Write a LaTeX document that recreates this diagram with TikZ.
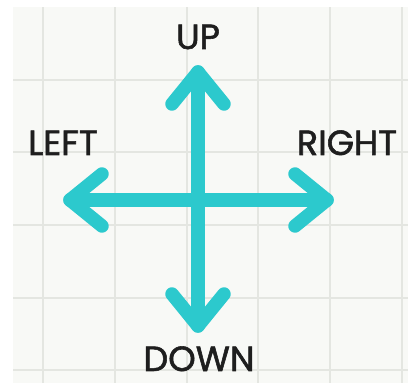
\documentclass[tikz,border=0pt]{standalone}
\usepackage{fontspec}
\setmainfont{Poppins}
\definecolor{teal1}{RGB}{44,201,205}
\definecolor{paper}{RGB}{248,249,246}
\definecolor{gridc}{RGB}{228,230,225}
\definecolor{ink}{RGB}{30,30,30}
\tikzset{
  arrowline/.style={draw=teal1, line width=13.5pt, line cap=round, line join=round},
  gridline/.style={draw=gridc, line width=1.4pt},
  label/.style={font=\fontsize{35}{35}\selectfont\addfontfeatures{FakeBold=1.6}, text=ink, inner sep=0pt, anchor=base}
}
\begin{document}
\begin{tikzpicture}[x=1pt,y=1pt]
\useasboundingbox (0,0) rectangle (408,383);
\fill[white] (0,0) rectangle (408,383);
\fill[paper] (13,0) rectangle (408,376);
\foreach \x in {43,115,187,258,330,402} \draw[gridline] (\x,0) -- (\x,376);
\foreach \y in {303,231,158,85,13} \draw[gridline] (13,\y) -- (408,\y);
% centre and tips
\coordinate (c) at (198,183);
\coordinate (up) at (198,311);
\coordinate (down) at (198,57);
\coordinate (left) at (70,183);
\coordinate (right) at (327,183);
\draw[arrowline] (up) -- (down);
\draw[arrowline] (left) -- (right);
\draw[arrowline] ([shift={(-26,-32)}]up) -- (up) -- ([shift={(26,-32)}]up);
\draw[arrowline] ([shift={(-26,32)}]down) -- (down) -- ([shift={(26,32)}]down);
\draw[arrowline] ([shift={(32,26)}]left) -- (left) -- ([shift={(32,-26)}]left);
\draw[arrowline] ([shift={(-32,26)}]right) -- (right) -- ([shift={(-32,-26)}]right);
\node[label] (lup) at (198,334) {UP};
\node[label] (lleft) at (63,228) {LEFT};
\node[label] (lright) at (347,228) {RIGHT};
\node[label] (ldown) at (199,12) {DOWN};
\end{tikzpicture}
\end{document}
